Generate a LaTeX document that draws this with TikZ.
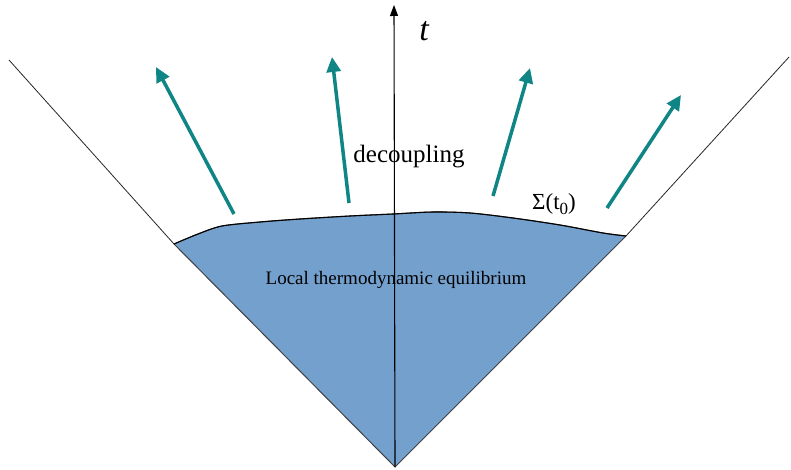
\documentclass[tikz,border=0pt]{standalone}
\usepackage{fontspec}
\setmainfont{Liberation Serif}
\usetikzlibrary{arrows.meta}
\definecolor{ltefill}{RGB}{116,160,206}
\definecolor{flow}{RGB}{16,133,133}
\tikzset{
  cone/.style={draw=black!85, line width=0.8pt},
  flowarrow/.style={draw=flow, line width=3.5pt, -{Triangle[length=15pt,width=14pt]}},
  axis/.style={draw=black, line width=1.1pt, -{Triangle[length=11pt,width=8pt]}},
  surface/.style={draw=black, line width=1.1pt},
  ltebody/.style={fill=ltefill, draw=black!75, line width=1pt, line join=round}
}
\begin{document}
\begin{tikzpicture}[x=1pt,y=-1pt]
\useasboundingbox (0,0) rectangle (791,470);
% key points
\coordinate (apex) at (395,467);
\coordinate (ltop) at (9,60);
\coordinate (rtop) at (789,57);
\coordinate (lcorner) at (174,244);
\coordinate (rcorner) at (626,236);
\coordinate (tip) at (394,5);
% filled region
\path[ltebody] (apex) -- (lcorner) -- plot[smooth, tension=0.5] coordinates {(174,244) (198,234) (222,226) (260,222) (300,219) (350,216) (393,214) (433,212) (470,213) (513,218) (560,225) (603,233) (626,236)} -- (rcorner) -- cycle;
\draw[surface] plot[smooth, tension=0.5] coordinates {(174,244) (198,234) (222,226) (260,222) (300,219) (350,216) (393,214) (433,212) (470,213) (513,218) (560,225) (603,233) (626,236)};
% light cone lines above the surface
\draw[cone] (ltop) -- (lcorner);
\draw[cone] (rtop) -- (rcorner);
% time axis
\draw[axis] (apex) -- (tip);
\node[font=\fontsize{34}{36}\selectfont\itshape] (tlabel) at (424,31) {t};
% flow arrows
\coordinate (a1s) at (234,214); \coordinate (a1e) at (156,67);
\coordinate (a2s) at (349,203); \coordinate (a2e) at (332,57);
\coordinate (a3s) at (493,196); \coordinate (a3e) at (530,68);
\coordinate (a4s) at (607,208); \coordinate (a4e) at (681,95);
\draw[flowarrow] (a1s) -- (a1e);
\draw[flowarrow] (a2s) -- (a2e);
\draw[flowarrow] (a3s) -- (a3e);
\draw[flowarrow] (a4s) -- (a4e);
% labels
\node[font=\fontsize{25}{27}\selectfont] (dec) at (409,157) {decoupling};
\node[font=\fontsize{23}{25}\selectfont] (sigma) at (554,204) {Σ(t\raisebox{-5pt}{\fontsize{17}{19}\selectfont 0})};
\node[font=\fontsize{19}{21}\selectfont] (lte) at (396,280) {Local thermodynamic equilibrium};
\end{tikzpicture}
\end{document}
